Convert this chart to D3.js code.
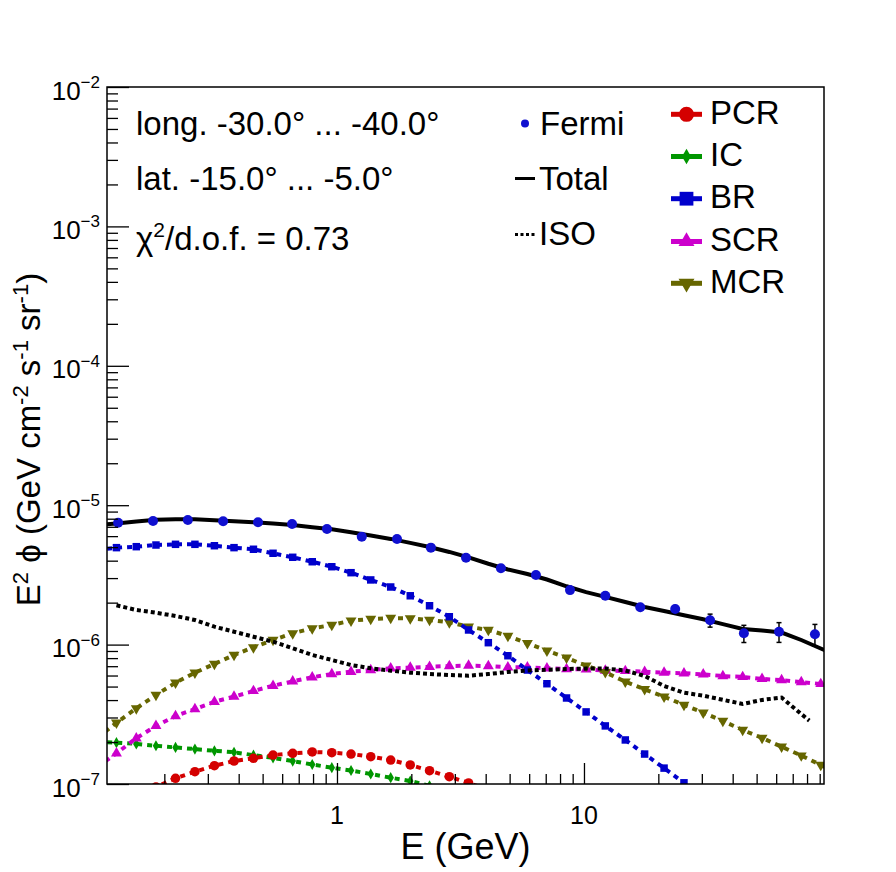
<!DOCTYPE html>
<html><head><meta charset="utf-8">
<script src="https://cdn.jsdelivr.net/npm/d3@7"></script>
<style>body{margin:0;background:#fff}svg text{font-family:"Liberation Sans",Arial,Helvetica,sans-serif;fill:#000}</style>
</head><body><svg id="c" width="896" height="872"></svg>
<script>
// ---------- DATA ----------
const modelE = [0.107,0.128,0.154,0.185,0.222,0.266,0.319,0.383,0.459,0.551,0.662,0.794,0.953,1.14,1.37,1.65,1.98,2.37,2.85,3.41,4.10,4.92,5.90,7.08,8.50,10.2,12.2,14.7,17.6,21.1,25.4,30.4,36.5,43.9,52.6,63.1,75.8,90.9,109];
const totalV = [7.21e-6,7.40e-6,7.64e-6,7.85e-6,7.92e-6,7.94e-6,7.81e-6,7.66e-6,7.56e-6,7.39e-6,7.21e-6,6.96e-6,6.71e-6,6.39e-6,6.06e-6,5.73e-6,5.37e-6,5.01e-6,4.62e-6,4.22e-6,3.80e-6,3.46e-6,3.21e-6,2.93e-6,2.62e-6,2.38e-6,2.20e-6,2.02e-6,1.861e-6,1.742e-6,1.625e-6,1.519e-6,1.403e-6,1.294e-6,1.260e-6,1.221e-6,1.079e-6,9.38e-7,8.15e-7];
const brV = [4.77e-6,4.96e-6,5.04e-6,5.18e-6,5.24e-6,5.24e-6,5.12e-6,4.96e-6,4.83e-6,4.52e-6,4.23e-6,3.93e-6,3.62e-6,3.28e-6,2.91e-6,2.59e-6,2.24e-6,1.90e-6,1.585e-6,1.273e-6,1.032e-6,8.32e-7,6.57e-7,5.24e-7,4.14e-7,3.29e-7,2.61e-7,2.07e-7,1.64e-7,1.30e-7,1.02e-7,8.1e-8,null,null,null,null,null,null,null];
const mcrV = [2.14e-7,2.75e-7,3.49e-7,4.35e-7,5.33e-7,6.29e-7,7.26e-7,8.42e-7,9.56e-7,1.079e-6,1.205e-6,1.309e-6,1.382e-6,1.485e-6,1.526e-6,1.551e-6,1.544e-6,1.501e-6,1.445e-6,1.344e-6,1.273e-6,1.153e-6,1.022e-6,9.04e-7,8.05e-7,7.06e-7,6.33e-7,5.42e-7,4.78e-7,4.23e-7,3.69e-7,3.25e-7,2.83e-7,2.44e-7,2.14e-7,1.85e-7,1.60e-7,1.37e-7,1.18e-7];
const scrV = [1.32e-7,1.66e-7,2.13e-7,2.61e-7,3.07e-7,3.45e-7,3.89e-7,4.23e-7,4.65e-7,5.07e-7,5.45e-7,5.83e-7,6.15e-7,6.39e-7,6.57e-7,6.76e-7,6.83e-7,6.94e-7,7.02e-7,7.06e-7,7.02e-7,6.87e-7,6.87e-7,6.76e-7,6.68e-7,6.65e-7,6.50e-7,6.47e-7,6.39e-7,6.29e-7,6.23e-7,6.12e-7,5.95e-7,5.86e-7,5.67e-7,5.57e-7,5.39e-7,5.22e-7,5.05e-7];
const pcrV = [null,null,7.68e-8,9.52e-8,1.099e-7,1.225e-7,1.353e-7,1.462e-7,1.529e-7,1.614e-7,1.661e-7,1.697e-7,1.677e-7,1.641e-7,1.570e-7,1.486e-7,1.369e-7,1.246e-7,1.128e-7,1.017e-7,9.06e-8,null,null,null,null,null,null,null,null,null,null,null,null,null,null,null,null,null,null];
const icV = [2.00e-7,1.98e-7,1.94e-7,1.88e-7,1.83e-7,1.78e-7,1.73e-7,1.69e-7,1.61e-7,1.54e-7,1.46e-7,1.38e-7,1.31e-7,1.25e-7,1.18e-7,1.11e-7,1.05e-7,9.7e-8,9.05e-8,null,null,null,null,null,null,null,null,null,null,null,null,null,null,null,null,null,null,null,null];
const isoE = [0.128,0.154,0.185,0.222,0.266,0.319,0.383,0.459,0.551,0.662,0.794,0.953,1.14,1.37,1.65,1.98,2.37,2.85,3.41,4.10,4.92,5.90,7.08,8.50,10.2,12.2,14.7,17.6,21.1,25.4,30.4,36.5,43.9,52.6,63.1,75.8,81.7];
const isoV = [1.914e-6,1.771e-6,1.693e-6,1.604e-6,1.501e-6,1.344e-6,1.237e-6,1.139e-6,1.049e-6,9.41e-7,8.42e-7,7.76e-7,7.14e-7,6.76e-7,6.50e-7,6.29e-7,6.15e-7,6.05e-7,5.98e-7,6.15e-7,6.36e-7,6.52e-7,6.60e-7,6.68e-7,6.73e-7,6.74e-7,6.52e-7,5.95e-7,5.05e-7,4.52e-7,4.30e-7,4.02e-7,3.75e-7,4.01e-7,4.17e-7,3.18e-7,2.85e-7];
const fermiE = [0.130,0.180,0.249,0.346,0.479,0.658,0.911,1.26,1.75,2.40,3.33,4.61,6.39,8.78,12.2,16.9,23.4,32.4,44.4,61.6,86.1];
const fermiV = [7.49e-6,7.70e-6,7.83e-6,7.66e-6,7.54e-6,7.33e-6,6.75e-6,5.94e-6,5.72e-6,4.96e-6,4.20e-6,3.53e-6,3.16e-6,2.46e-6,2.24e-6,1.852e-6,1.801e-6,1.494e-6,1.205e-6,1.237e-6,1.186e-6];
const fermiErr = [4e-8,4e-8,4e-8,4e-8,4e-8,4e-8,4e-8,4e-8,4e-8,4e-8,4e-8,5e-8,6e-8,1.0e-7,1.3e-7,1.4e-7,1.4e-7,1.6e-7,1.7e-7,2.0e-7,2.1e-7];
const xRange = [0.1172, 93.7];
const yRange = [1e-7, 1e-2];
const xMajor = [1, 10];
const xMajorLabels = ["1", "10"];
const xMinor = [0.2,0.3,0.4,0.5,0.6,0.7,0.8,0.9,2,3,4,5,6,7,8,9,20,30,40,50,60,70,80,90];
const yExp = [-7,-6,-5,-4,-3,-2];
const infoLines = ["long. -30.0° ... -40.0°", "lat. -15.0° ... -5.0°"];
const chiLabel = "0.73";

// ---------- LAYOUT ----------
const F = {l:107, r:824, t:87, b:784};
const svg = d3.select('#c');
const x = d3.scaleLog().domain(xRange).range([F.l, F.r]);
const y = d3.scaleLog().domain(yRange).range([F.b, F.t]);

const COL = {pcr:'#d40000', ic:'#009600', br:'#0000cc', scr:'#cc00cc', mcr:'#666600', fermi:'#1010d0'};
const FS = 33;

svg.append('defs').append('clipPath').attr('id','clip')
  .append('rect').attr('x',F.l).attr('y',F.t).attr('width',F.r-F.l).attr('height',F.b-F.t);
const g = svg.append('g').attr('clip-path','url(#clip)');

const line = d3.line().x(d=>x(d[0])).y(d=>y(d[1]));

function series(E, V, color, sym, rot, msize, dash, lw){
  const pts = E.map((e,i)=>[e,V[i]]).filter(d=>d[1]!=null);
  g.append('path').datum(pts).attr('d',line).attr('fill','none')
    .attr('stroke',color).attr('stroke-width',lw).attr('stroke-dasharray',dash);
  if(sym){
    g.selectAll(null).data(pts).enter().append('path')
      .attr('d', d3.symbol(sym, msize)())
      .attr('transform', d=>`translate(${x(d[0])},${y(d[1])}) rotate(${rot})`)
      .attr('fill', color);
  }
}

series(modelE, icV, COL.ic, d3.symbolDiamond, 0, 36, '5,5', 4);
series(modelE, pcrV, COL.pcr, d3.symbolCircle, 0, 72, '5,5', 4);
series(modelE, scrV, COL.scr, d3.symbolTriangle, 0, 52, '5,5', 4);
series(modelE, mcrV, COL.mcr, d3.symbolTriangle, 180, 52, '5,5', 4);
series(modelE, brV, COL.br, d3.symbolSquare, 0, 56, '5,5', 4);
series(isoE, isoV, '#000', null, 0, 0, '4,3', 4);
series(modelE, totalV, '#000', null, 0, 0, null, 4);

// Fermi data with error bars
const fg = g.append('g');
fermiE.forEach((e,i)=>{
  const v = fermiV[i], er = fermiErr[i];
  const cx = x(e), y1 = y(v+er), y2 = y(v-er);
  fg.append('line').attr('x1',cx).attr('x2',cx).attr('y1',y1).attr('y2',y2).attr('stroke','#000').attr('stroke-width',1.5);
  if (y2 - y1 > 10) {
    [y1,y2].forEach(yy=>fg.append('line').attr('x1',cx-2.5).attr('x2',cx+2.5).attr('y1',yy).attr('y2',yy).attr('stroke','#000').attr('stroke-width',1.5));
  }
  fg.append('circle').attr('cx',cx).attr('cy',y(v)).attr('r',5).attr('fill',COL.fermi);
});

// ---------- AXES ----------
const yMajorVals = yExp.map(p=>Math.pow(10,p));
const yMinorVals = [];
yExp.slice(0,-1).forEach(p=>{ for(let m=2;m<=9;m++) yMinorVals.push(m*Math.pow(10,p)); });

function styleAxis(sel){ sel.select('.domain').remove(); sel.selectAll('line').attr('stroke','#000').attr('stroke-width',1.3); sel.selectAll('text').remove(); }

svg.append('g').attr('transform',`translate(0,${F.b})`)
  .call(d3.axisTop(x).tickValues(xMajor).tickSize(21).tickFormat('')).call(styleAxis);
svg.append('g').attr('transform',`translate(0,${F.b})`)
  .call(d3.axisTop(x).tickValues(xMinor).tickSize(10).tickFormat('')).call(styleAxis);
svg.append('g').attr('transform',`translate(${F.l},0)`)
  .call(d3.axisRight(y).tickValues(yMajorVals).tickSize(22).tickFormat('')).call(styleAxis);
svg.append('g').attr('transform',`translate(${F.l},0)`)
  .call(d3.axisRight(y).tickValues(yMinorVals).tickSize(11).tickFormat('')).call(styleAxis);

// frame
svg.append('rect').attr('x',F.l).attr('y',F.t).attr('width',F.r-F.l).attr('height',F.b-F.t)
  .attr('fill','none').attr('stroke','#000').attr('stroke-width',1.5);

// x labels
xMajor.forEach((v,i)=>{
  svg.append('text').attr('x',x(v)).attr('y',823.5).attr('text-anchor','middle')
    .attr('font-size',25).text(xMajorLabels[i]);
});
// y labels
yExp.forEach(p=>{
  const t = svg.append('text').attr('x',100).attr('y',y(Math.pow(10,p))+12.5).attr('text-anchor','end').attr('font-size',26);
  t.append('tspan').text('10');
  t.append('tspan').attr('dy',-11.5).attr('font-size',17).text('\u2212'+Math.abs(p));
});

// axis titles
svg.append('text').attr('x',(F.l+F.r)/2).attr('y',859).attr('text-anchor','middle').attr('font-size',36).text('E (GeV)');
const yt = svg.append('text').attr('transform',`translate(40,${(F.t+F.b)/2+4}) rotate(-90)`).attr('text-anchor','middle').attr('font-size',33);
yt.append('tspan').text('E');
yt.append('tspan').attr('dy',-12).attr('font-size',22).text('2');
yt.append('tspan').attr('dy',12).text(' \u03d5 (GeV cm');
yt.append('tspan').attr('dy',-12).attr('font-size',22).text('-2');
yt.append('tspan').attr('dy',12).text(' s');
yt.append('tspan').attr('dy',-12).attr('font-size',22).text('-1');
yt.append('tspan').attr('dy',12).text(' sr');
yt.append('tspan').attr('dy',-12).attr('font-size',22).text('-1');
yt.append('tspan').attr('dy',12).text(')');

// info texts
svg.append('text').attr('x',136).attr('y',135).attr('font-size',FS).text(infoLines[0]);
svg.append('text').attr('x',136).attr('y',190).attr('font-size',FS).text(infoLines[1]);
const ct = svg.append('text').attr('x',136).attr('y',250).attr('font-size',FS);
ct.append('tspan').text('\u03c7');
ct.append('tspan').attr('dy',-13).attr('font-size',21).text('2');
ct.append('tspan').attr('dy',13).text('/d.o.f. = ' + chiLabel);

// legend 1
const L = svg.append('g');
L.append('circle').attr('cx',525).attr('cy',123.5).attr('r',4).attr('fill',COL.fermi);
L.append('text').attr('x',540).attr('y',134.5).attr('font-size',FS).text('Fermi');
L.append('line').attr('x1',515).attr('x2',535).attr('y1',178.5).attr('y2',178.5).attr('stroke','#000').attr('stroke-width',3);
L.append('text').attr('x',539).attr('y',190).attr('font-size',FS).text('Total');
L.append('line').attr('x1',515).attr('x2',536).attr('y1',234.5).attr('y2',234.5).attr('stroke','#000').attr('stroke-width',3).attr('stroke-dasharray','3,2.5');
L.append('text').attr('x',539).attr('y',245).attr('font-size',FS).text('ISO');

// legend 2
const leg2 = [
  {name:'PCR', c:COL.pcr, sym:d3.symbolCircle, rot:0, s:180, y:114.3},
  {name:'IC',  c:COL.ic,  sym:d3.symbolDiamond, rot:0, s:70, y:156.5},
  {name:'BR',  c:COL.br,  sym:d3.symbolSquare, rot:0, s:190, y:198.7},
  {name:'SCR', c:COL.scr, sym:d3.symbolTriangle, rot:0, s:110, y:241.5},
  {name:'MCR', c:COL.mcr, sym:d3.symbolTriangle, rot:180, s:110, y:283.3}
];
leg2.forEach(d=>{
  L.append('line').attr('x1',671).attr('x2',702).attr('y1',d.y).attr('y2',d.y).attr('stroke',d.c).attr('stroke-width',5);
  L.append('path').attr('d',d3.symbol(d.sym,d.s)()).attr('transform',`translate(686.5,${d.y}) rotate(${d.rot})`).attr('fill',d.c);
  L.append('text').attr('x',710).attr('y',d.y+9.5).attr('font-size',FS).text(d.name);
});
</script></body></html>
